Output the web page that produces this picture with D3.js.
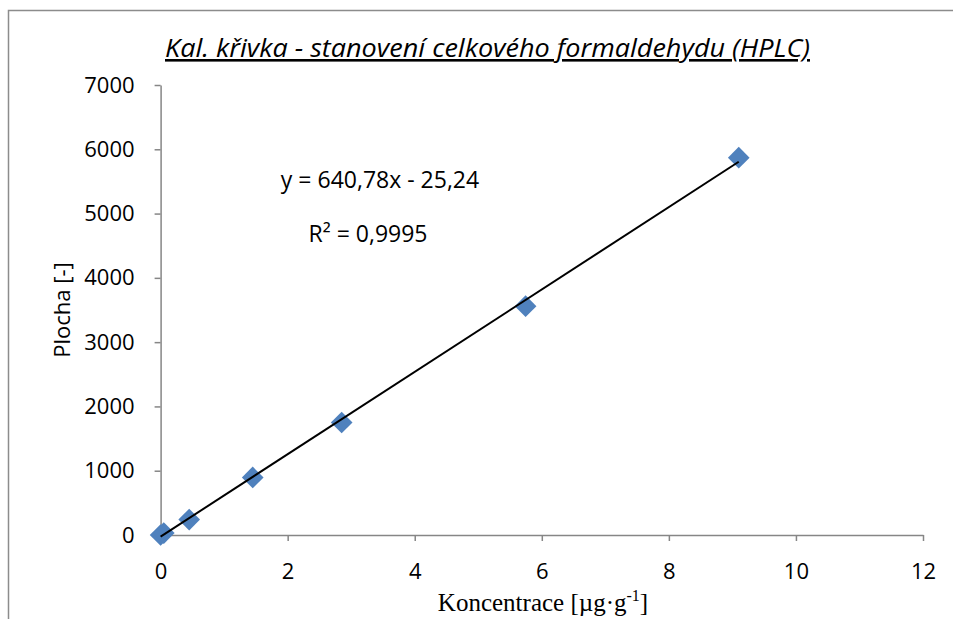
<!DOCTYPE html>
<head>
  <meta charset="utf-8">
  <script src="https://cdn.jsdelivr.net/npm/d3@7"></script>
  <style>
    body { margin:0; background:#fff; overflow:hidden; }
    text { font-family: "Open Sans", sans-serif; fill:#000; }
  </style>
</head>
<body>
  <script>
    // data
    var konc  = [0, 0.05, 0.45, 1.45, 2.85, 5.745, 9.1];
    var plocha = [0, 30, 240, 895, 1750, 3560, 5870];
    var xTicks = [0, 2, 4, 6, 8, 10, 12];
    var yTicks = [0, 1000, 2000, 3000, 4000, 5000, 6000, 7000];
    var slope = 640.78, intercept = -25.24;

    var width = 953, height = 619;

    var svg = d3.select("body").append("svg")
      .attr("width", width)
      .attr("height", height);

    // chart area border (runs off the right and bottom)
    svg.append("rect")
      .attr("x", 8.5).attr("y", 10.5)
      .attr("width", 1200).attr("height", 1200)
      .attr("fill", "none")
      .attr("stroke", "#8c8c8c")
      .attr("stroke-width", 1.5);

    var x = d3.scaleLinear().domain([0, 12]).range([160.6, 923]);
    var y = d3.scaleLinear().domain([0, 7000]).range([535, 85]);

    var xAxis = svg.append("g")
      .attr("transform", "translate(0,535)")
      .call(d3.axisBottom(x).tickValues(xTicks).tickSize(6).tickPadding(22).tickSizeOuter(0));
    var yAxis = svg.append("g")
      .attr("transform", "translate(160.6,0)")
      .call(d3.axisLeft(y).tickValues(yTicks).tickFormat(d3.format("d"))
        .tickSize(6).tickPadding(20).tickSizeOuter(0));

    [xAxis, yAxis].forEach(function(g) {
      g.select(".domain").attr("stroke", "#868686").attr("stroke-width", 1.5);
      g.selectAll(".tick line").attr("stroke", "#868686").attr("stroke-width", 1.5);
      g.selectAll(".tick text")
        .attr("fill", "#000")
        .style("font-family", "'Open Sans', sans-serif")
        .style("font-size", "22px");
    });

    // diamond markers
    var sq = d3.symbol().type(d3.symbolSquare).size(235);
    svg.append("g").selectAll("path")
      .data(konc)
      .enter().append("path")
      .attr("d", sq)
      .attr("fill", "#4f81bd")
      .attr("transform", function(d, i) {
        return "translate(" + x(d) + "," + y(plocha[i]) + ") rotate(45)";
      });

    // trendline over the data range, on top of the markers
    var xr = d3.extent(konc);
    svg.append("line")
      .attr("x1", x(xr[0])).attr("y1", y(slope * xr[0] + intercept))
      .attr("x2", x(xr[1])).attr("y2", y(slope * xr[1] + intercept))
      .attr("stroke", "#000")
      .attr("stroke-width", 2);

    // title
    svg.append("text")
      .attr("x", 165).attr("y", 57)
      .attr("textLength", 645)
      .attr("lengthAdjust", "spacingAndGlyphs")
      .style("font-size", "26px")
      .style("font-style", "italic")
      .style("text-decoration", "underline")
      .text("Kal. křivka - stanovení celkového formaldehydu (HPLC)");

    // equation
    svg.append("text")
      .attr("x", 380).attr("y", 188)
      .attr("text-anchor", "middle")
      .style("font-size", "23px")
      .text("y = 640,78x - 25,24");
    svg.append("text")
      .attr("x", 368).attr("y", 242)
      .attr("text-anchor", "middle")
      .style("font-size", "23px")
      .text("R² = 0,9995");

    // axis titles
    svg.append("text")
      .attr("transform", "translate(70,310) rotate(-90)")
      .attr("text-anchor", "middle")
      .style("font-size", "22px")
      .text("Plocha [-]");

    var xl = svg.append("text")
      .attr("x", 543).attr("y", 611)
      .attr("text-anchor", "middle")
      .style("font-family", "'Liberation Serif', serif")
      .style("font-size", "25px");
    xl.append("tspan").text("Koncentrace [µg·g");
    xl.append("tspan").attr("dy", -10).style("font-size", "16px").text("-1");
    xl.append("tspan").attr("dy", 10).text("]");
  </script>
</body>
